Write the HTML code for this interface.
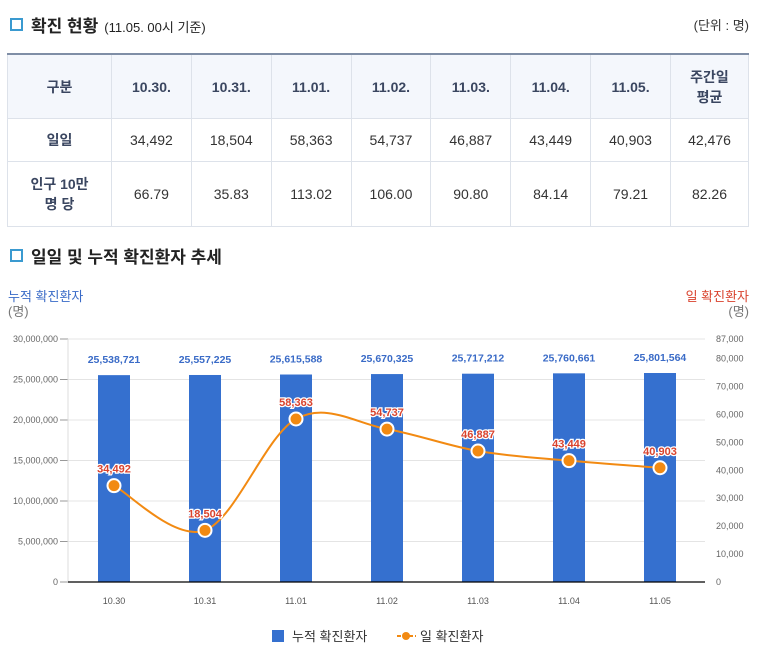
<!DOCTYPE html>
<html><head><meta charset="utf-8">
<style>
body{margin:0;width:757px;height:649px;background:#fff;font-family:"Liberation Sans","Noto Sans CJK KR",sans-serif;position:relative;overflow:hidden;color:#333}
.h{position:absolute;left:10px;font-size:17px;font-weight:bold;color:#222}
.h .sq{display:inline-block;width:9px;height:9px;border:2px solid #3a9ad0;margin-right:8px;vertical-align:1px}
.h small{font-size:13px;font-weight:normal;margin-left:6px}
table{position:absolute;left:7px;top:53px;border-collapse:collapse;width:742px;table-layout:fixed;font-size:14px}
td,th{border:1px solid #dde2ea;text-align:center;color:#333}
th{background:#f4f7fc;color:#3a4660;font-weight:bold}
tr:first-child th{border-top:2px solid #7f8ea6;height:61px}
td.r{font-weight:bold;color:#3a4660;background:#fff}
</style></head><body>
<div class="h" style="top:12px"><span class="sq"></span>확진 현황<small>(11.05. 00시 기준)</small></div>
<div style="position:absolute;right:8px;top:15px;font-size:13px">(단위 : 명)</div>
<table>
<colgroup><col style="width:104px"><col><col><col><col><col><col><col><col style="width:78px"></colgroup>
<tr><th>구분</th><th>10.30.</th><th>10.31.</th><th>11.01.</th><th>11.02.</th><th>11.03.</th><th>11.04.</th><th>11.05.</th><th>주간일<br>평균</th></tr>
<tr style="height:43px"><td class="r">일일</td><td>34,492</td><td>18,504</td><td>58,363</td><td>54,737</td><td>46,887</td><td>43,449</td><td>40,903</td><td>42,476</td></tr>
<tr style="height:65px"><td class="r">인구 10만<br>명 당</td><td>66.79</td><td>35.83</td><td>113.02</td><td>106.00</td><td>90.80</td><td>84.14</td><td>79.21</td><td>82.26</td></tr>
</table>
<div class="h" style="top:243px"><span class="sq"></span>일일 및 누적 확진환자 추세</div>
<svg id="c" width="757" height="649" style="position:absolute;left:0;top:0"></svg>
<script>
const categories=["10.30","10.31","11.01","11.02","11.03","11.04","11.05"];
const cumulative=[25538721,25557225,25615588,25670325,25717212,25760661,25801564];
const daily=[34492,18504,58363,54737,46887,43449,40903];
const leftTicks=[0,5000000,10000000,15000000,20000000,25000000,30000000];
const rightTicks=[0,10000,20000,30000,40000,50000,60000,70000,80000,87000];
const svg=document.getElementById('c');const NS='http://www.w3.org/2000/svg';
function el(t,a,txt){const e=document.createElementNS(NS,t);for(const k in a)e.setAttribute(k,a[k]);if(txt!==undefined)e.textContent=txt;svg.appendChild(e);return e;}
const y0=582,y1=339,xL=68,xR=705;
const yL=v=>y0-v/30000000*(y0-y1);
const yR=v=>y0-v/87000*(y0-y1);
const xC=i=>114+i*91;
const fmt=v=>v.toLocaleString('en-US');
leftTicks.forEach(v=>{const g=el('line',{x1:xL,x2:xR,y1:yL(v),y2:yL(v),stroke:'#e4e4e4'});
const t=el('text',{x:58,y:yL(v)+3,'text-anchor':'end','font-size':9,fill:'#666'},fmt(v));
el('line',{x1:60,x2:xL,y1:yL(v),y2:yL(v),stroke:'#999'});});
rightTicks.forEach(v=>{const t=el('text',{x:716,y:yR(v)+3,'font-size':9,fill:'#666'},fmt(v));});
el('line',{x1:xL,x2:xL,y1:y1,y2:y0,stroke:'#ddd'});
categories.forEach((c,i)=>{
const h=y0-yL(cumulative[i]);
const b=el('rect',{x:xC(i)-16,y:yL(cumulative[i]),width:32,height:h,fill:'#3570cf'});

const t=el('text',{x:xC(i),y:yL(cumulative[i])-12,'text-anchor':'middle','font-size':10.5,'font-weight':'bold',fill:'#3a6bc7'},fmt(cumulative[i]));

const xl=el('text',{x:xC(i),y:604,'text-anchor':'middle','font-size':9,fill:'#555'},c);

});
el('line',{x1:xL,x2:xR,y1:y0,y2:y0,stroke:'#000','stroke-width':1.3});
const P=daily.map((v,i)=>[xC(i),yR(v)]);
let d='M'+P[0][0]+','+P[0][1];
for(let i=0;i<P.length-1;i++){const p0=P[Math.max(i-1,0)],p1=P[i],p2=P[i+1],p3=P[Math.min(i+2,P.length-1)];const k=6;
d+=` C${p1[0]+(p2[0]-p0[0])/k},${p1[1]+(p2[1]-p0[1])/k} ${p2[0]-(p3[0]-p1[0])/k},${p2[1]-(p3[1]-p1[1])/k} ${p2[0]},${p2[1]}`;}
const ln=el('path',{d:d,fill:'none',stroke:'#f28a12','stroke-width':2});

P.forEach((p,i)=>{const c=el('circle',{cx:p[0],cy:p[1],r:6.5,fill:'#f28a12',stroke:'#fff','stroke-width':2});

const t=el('text',{x:p[0],y:p[1]-13,'text-anchor':'middle','font-size':11,'font-weight':'bold',fill:'#d9432e',stroke:'#fff','stroke-width':2.5,'paint-order':'stroke'},fmt(daily[i]));
});
[['누적 확진환자',8,301,'start','#3a6bc7','left-axis-title'],['(명)',8,316,'start','#777','left-axis-unit'],['일 확진환자',749,301,'end','#d9432e','right-axis-title'],['(명)',749,316,'end','#777','right-axis-unit']].forEach(a=>{
const t=el('text',{x:a[1],y:a[2],'text-anchor':a[3],'font-size':13,fill:a[4]},a[0]);});
const ls=el('rect',{x:272,y:630,width:12,height:12,fill:'#3570cf'});
const lt=el('text',{x:292,y:641,'font-size':13,fill:'#333'},'누적 확진환자');
el('line',{x1:397,x2:416,y1:636,y2:636,stroke:'#f28a12','stroke-width':2,'stroke-dasharray':'4,2'});
const lc=el('circle',{cx:406,cy:636,r:4,fill:'#f28a12'});
const lt2=el('text',{x:420,y:641,'font-size':13,fill:'#333'},'일 확진환자');
</script>
</body></html>
